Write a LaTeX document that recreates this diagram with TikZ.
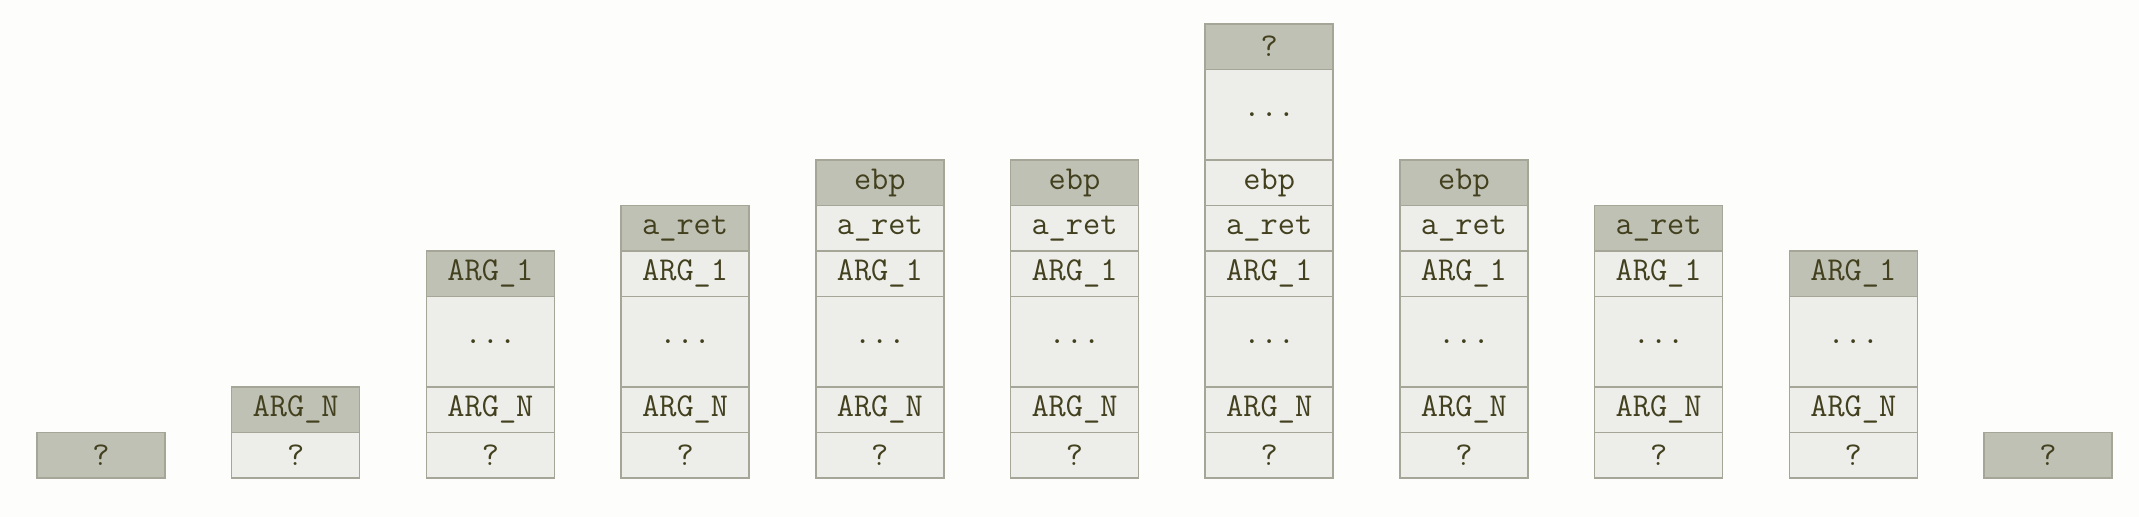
\documentclass[tikz,border=0pt]{standalone}
\usepackage{tikz}
\definecolor{stackbg}{RGB}{253,253,252}
\definecolor{stackfill}{RGB}{237,238,233}
\definecolor{stacktop}{RGB}{191,193,180}
\definecolor{stackline}{RGB}{165,166,152}
\definecolor{stacktext}{RGB}{66,64,30}
\newcommand\celldots{...}
\tikzset{
  %% ---- stack cells ----
  cell/.style     = {rectangle, draw=stackline, line width=0.9pt,
                     fill=stackfill, minimum width=2.56cm,
                     minimum height=#1*0.908cm, inner sep=0pt, outer sep=0pt,
                     text=stacktext, font=\fontsize{19}{23}\selectfont\ttfamily},
  cell/.default   = 1,
  topcell/.style  = {cell=#1, fill=stacktop},
  topcell/.default = 1,
}
\begin{document}
\begin{tikzpicture}

  \fill[stackbg] (0,0) rectangle (42.78,10.34);
  \useasboundingbox (0,0) rectangle (42.78,10.34);

  %% one stack per step, the last cell pushed is the dark one
  \foreach \col/\ncells in {0/1, 1/2, 2/4, 3/5, 4/6, 5/6, 6/8, 7/6, 8/5, 9/4, 10/1}{
    \foreach \k/\txt/\yc/\tall in {1/?/0.5/1, 2/ARG\_N/1.5/1, 3/\celldots/3/2,
                                   4/ARG\_1/4.5/1, 5/a\_ret/5.5/1, 6/ebp/6.5/1,
                                   7/\celldots/8/2, 8/?/9.5/1}{
      \ifnum\k<\ncells
        \node[cell=\tall] (s\col-\k) at (2.02+3.894*\col, 0.78+0.908*\yc) {\txt};
      \fi
      \ifnum\k=\ncells
        \node[topcell=\tall] (s\col-\k) at (2.02+3.894*\col, 0.78+0.908*\yc) {\txt};
      \fi
    }
  }

\end{tikzpicture}
\end{document}
